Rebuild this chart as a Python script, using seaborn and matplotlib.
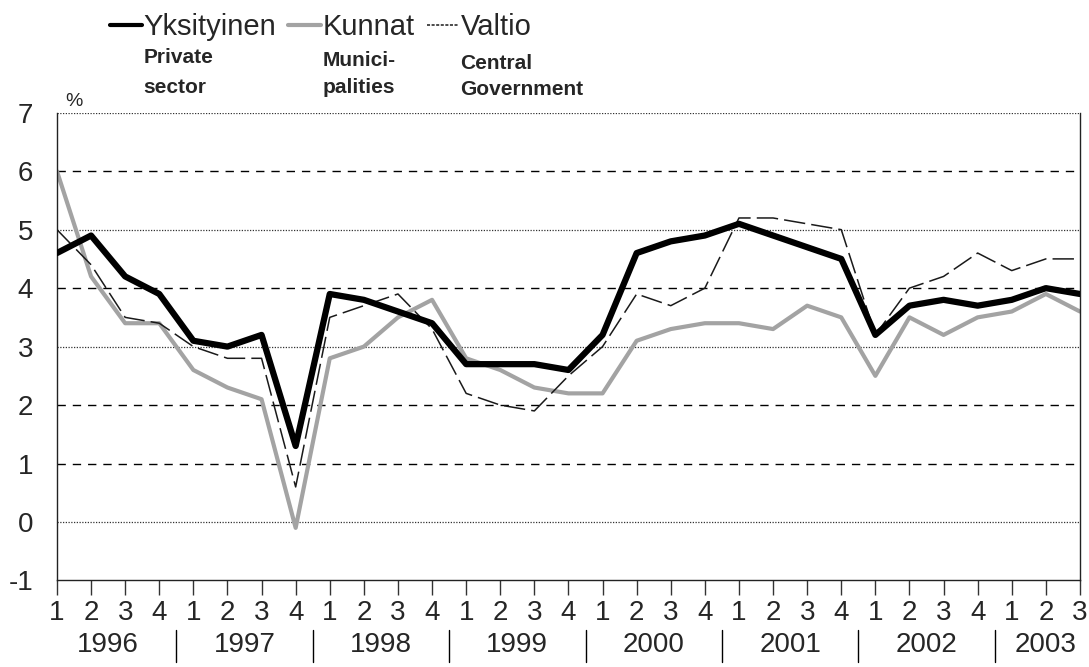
import numpy as np
import pandas as pd
import seaborn as sns
import matplotlib.pyplot as plt
from matplotlib.transforms import blended_transform_factory

# quarterly change, %, 1996Q1 - 2003Q3
years = [1996, 1997, 1998, 1999, 2000, 2001, 2002, 2003]
quarters = ["1", "2", "3", "4"] * 7 + ["1", "2", "3"]

yksityinen = [4.6, 4.9, 4.2, 3.9, 3.1, 3.0, 3.2, 1.3, 3.9, 3.8, 3.6, 3.4, 2.7, 2.7, 2.7, 2.6,
              3.2, 4.6, 4.8, 4.9, 5.1, 4.9, 4.7, 4.5, 3.2, 3.7, 3.8, 3.7, 3.8, 4.0, 3.9]
kunnat = [6.0, 4.2, 3.4, 3.4, 2.6, 2.3, 2.1, -0.1, 2.8, 3.0, 3.5, 3.8, 2.8, 2.6, 2.3, 2.2,
          2.2, 3.1, 3.3, 3.4, 3.4, 3.3, 3.7, 3.5, 2.5, 3.5, 3.2, 3.5, 3.6, 3.9, 3.6]
valtio = [5.0, 4.4, 3.5, 3.4, 3.0, 2.8, 2.8, 0.6, 3.5, 3.7, 3.9, 3.3, 2.2, 2.0, 1.9, 2.5,
          3.0, 3.9, 3.7, 4.0, 5.2, 5.2, 5.1, 5.0, 3.2, 4.0, 4.2, 4.6, 4.3, 4.5, 4.5]

series_names = ["Yksityinen", "Kunnat", "Valtio"]
sub_labels = [("Private", "sector"), ("Munici-", "palities"), ("Central", "Government")]

sns.set_theme(style="white")
plt.rcParams["font.family"] = ["Liberation Sans", "DejaVu Sans"]
plt.rcParams["axes.unicode_minus"] = False

t = np.arange(len(quarters))
df = pd.DataFrame({"t": t, "Yksityinen": yksityinen, "Kunnat": kunnat, "Valtio": valtio})
df = df.melt(id_vars="t", var_name="sarja", value_name="muutos")

styles = {
    "Yksityinen": dict(color="black", linewidth=4.5, linestyle="-", zorder=4),
    "Kunnat": dict(color="#a3a3a3", linewidth=3.0, linestyle="-", zorder=2),
    "Valtio": dict(color="#1a1a1a", linewidth=1.1, linestyle=(0, (14, 4)), zorder=3),
}

fig = plt.figure(figsize=(10.89, 6.67), dpi=100)
ax = fig.add_axes([0.0523, 0.1297, 0.9394, 0.7013])

for name in ["Kunnat", "Valtio", "Yksityinen"]:
    sns.lineplot(data=df[df["sarja"] == name], x="t", y="muutos", ax=ax,
                 label=name, **styles[name])

ax.set_xlim(0, len(quarters) - 1)
ax.set_ylim(-1, 7)
ax.set_xlabel("")
ax.set_ylabel("")

# axes + grid
ax.set_yticks(range(-1, 8))
ax.yaxis.grid(True)
ax.xaxis.grid(False)
for val, gl in zip(ax.get_yticks(), ax.get_ygridlines()):
    if val in (0, 3, 5, 7):
        gl.set_linestyle((0, (1, 1.2)))
        gl.set_color("#333333")
        gl.set_linewidth(0.9)
    elif val == -1:
        gl.set_visible(False)
    else:
        gl.set_linestyle((0, (6, 5)))
        gl.set_color("black")
        gl.set_linewidth(1.0)

for side in ["left", "right", "bottom"]:
    ax.spines[side].set_visible(True)
    ax.spines[side].set_color("#222222")
    ax.spines[side].set_linewidth(1.0)
ax.spines["top"].set_visible(False)

ax.set_xticks(t, quarters)
ax.tick_params(axis="x", direction="out", length=11, width=1, color="#333333",
               pad=3, labelsize=20, bottom=True)
ax.tick_params(axis="y", length=0, pad=17, labelsize=20)

# year row under quarter numbers
trans = blended_transform_factory(ax.transData, ax.transAxes)
for k, yr in enumerate(years):
    pos = t[4 * k:4 * k + 4]
    ax.text(pos.mean(), -0.138, str(yr), transform=trans, ha="center", va="center",
            fontsize=20)
    if k > 0:
        ax.plot([pos[0] - 0.5] * 2, [-0.106, -0.174], transform=trans, color="black",
                linewidth=1, clip_on=False)

ax.text(0.008, 1.005, "%", transform=ax.transAxes, fontsize=14, va="bottom", ha="left")

# legend on top with english sub labels
handles = {ln.get_label(): ln for ln in ax.get_lines() if ln.get_label() in series_names}
leg = ax.legend([handles[n] for n in series_names], series_names, loc="center left",
                bbox_to_anchor=(0.098, 1 - 27 / 667), bbox_transform=fig.transFigure,
                ncol=3, frameon=False, fontsize=21, handlelength=1.1,
                handletextpad=0.06, columnspacing=0.42, borderpad=0.1, borderaxespad=0)
for ln in leg.get_lines():
    ln.set_linewidth(min(ln.get_linewidth(), 3))
leg.get_lines()[2].set_linestyle((0, (2, 1)))

fig.canvas.draw()
renderer = fig.canvas.get_renderer()
W, H = fig.canvas.get_width_height()
line1_base = [63, 66, 69]
line2_base = [93, 93, 95]
for txt, (l1, l2), b1, b2 in zip(leg.get_texts(), sub_labels, line1_base, line2_base):
    x0 = txt.get_window_extent(renderer).x0 / W
    fig.text(x0, 1 - b1 / H, l1, fontsize=15, fontweight="bold", va="baseline", ha="left")
    fig.text(x0, 1 - b2 / H, l2, fontsize=15, fontweight="bold", va="baseline", ha="left")

fig.savefig("out.png", dpi=100)
